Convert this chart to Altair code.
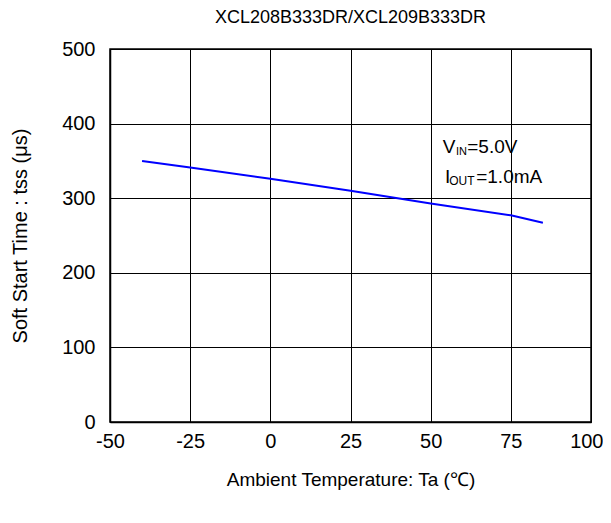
import altair as alt
import pandas as pd

temps = [-40, -25, 0, 25, 50, 75, 85]
tss = [350, 341, 326, 310, 293, 277, 267]

x_ticks = [-50, -25, 0, 25, 50, 75, 100]
y_ticks = [0, 100, 200, 300, 400, 500]

title_text = "XCL208B333DR/XCL209B333DR"
x_title = "Ambient Temperature: Ta (℃)"
y_title = "Soft Start Time : tss (μs)"

FONT = "Liberation Sans"

df = pd.DataFrame({"t": temps, "tss": tss})

line = alt.Chart(df).mark_line(color="#0000ff", strokeWidth=2).encode(
    x=alt.X("t:Q", scale=alt.Scale(domain=[-50, 100], nice=False),
            axis=alt.Axis(values=x_ticks, title=x_title, titleFontSize=19,
                          labelFlush=False,
                          labelAlign=alt.ExprRef("datum.value == 100 ? 'right' : 'center'"),
                          labelOffset=alt.ExprRef("datum.value == 100 ? 12 : 0"),
                          labelExpr="datum.value < 0 ? '-' + abs(datum.value) : '' + datum.value",
                          titlePadding=19, labelPadding=9)),
    y=alt.Y("tss:Q", scale=alt.Scale(domain=[0, 500], nice=False),
            axis=alt.Axis(values=y_ticks, title=y_title, titleFontSize=20,
                          labelFlush=False,
                          titlePadding=31, labelPadding=15)),
)


def txt(t, v, s, size):
    return alt.Chart(pd.DataFrame({"t": [t], "v": [v], "s": [s]})).mark_text(
        align="left", baseline="alphabetic", fontSize=size, font=FONT, color="black"
    ).encode(x="t:Q", y="v:Q", text="s:N")


layers = [
    line,
    txt(53.8, 361, "V", 19),
    txt(57.9, 358.5, "IN", 11),
    txt(61.4, 361, "=5.0V", 19),
    txt(54.5, 320.5, "I", 19),
    txt(55.8, 317.8, "OUT", 12),
    txt(64.2, 320.5, "=1.0mA", 19),
]

chart = alt.layer(*layers).properties(
    width=481, height=373,
    title=alt.TitleParams(title_text, fontSize=18, font=FONT, fontWeight="normal",
                          anchor="middle", offset=12, color="black"),
    autosize=alt.AutoSizeParams(type="none"),
    padding={"left": 102, "top": 41, "right": 12, "bottom": 85},
).configure_axis(
    grid=True, gridColor="black", gridOpacity=1, gridWidth=1,
    domainColor="black", domainWidth=1.5,
    ticks=False,
    labelFont=FONT, labelFontSize=20, labelColor="black",
    titleFont=FONT, titleFontWeight="normal", titleColor="black",
).configure_view(stroke="black", strokeWidth=1.5)

chart.save("out.html", embed_options={"renderer": "svg", "actions": False})
